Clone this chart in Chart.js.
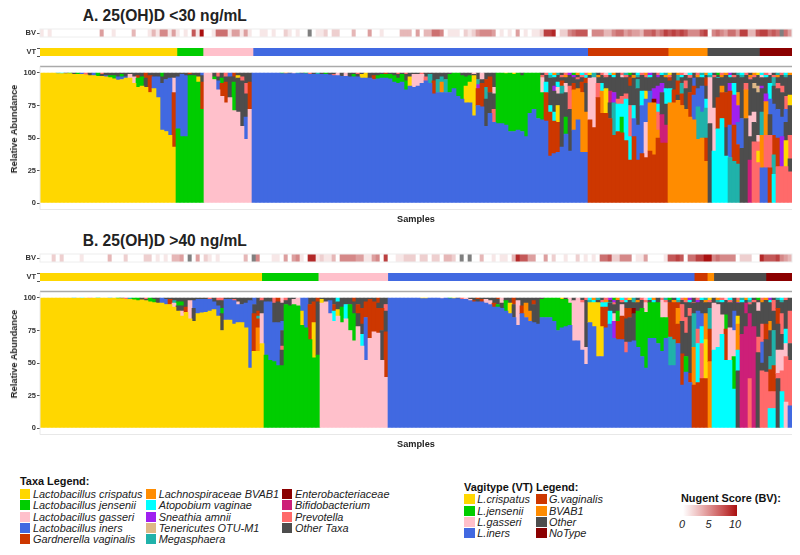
<!DOCTYPE html>
<html><head><meta charset="utf-8">
<script src="https://cdn.jsdelivr.net/npm/chart.js@4"></script>
<style>
html,body{margin:0;padding:0;background:#fff;width:800px;height:555px;overflow:hidden;font-family:"Liberation Sans",Arial,sans-serif}
canvas{position:absolute;left:0;display:block;filter:blur(0.35px)}
.t{position:absolute;white-space:nowrap;color:#111}
.h{font-weight:bold;font-size:15.6px;color:#222}
.lg{font-size:10.9px;font-style:italic;color:#222;line-height:12px}
.lt{font-size:10.9px;font-weight:bold;color:#111;line-height:12px}
.sw{position:absolute;width:10px;height:10px}
.ya{font-weight:bold;font-size:9.3px;color:#222;transform:translate(-50%,-50%) rotate(-90deg)}
</style></head><body>
<script>
const taxaCodes = ["Y","J","S","I","R","O","C","V","T","M","E","B","P","X"];
const taxaNames = ["Lactobacillus crispatus","Lactobacillus jensenii","Lactobacillus gasseri","Lactobacillus iners","Gardnerella vaginalis","Lachnospiraceae BVAB1","Atopobium vaginae","Sneathia amnii","Tenericutes OTU-M1","Megasphaera","Enterobacteriaceae","Bifidobacterium","Prevotella","Other Taxa"];
const taxaColors = ["#FFD700","#00CD00","#FFC0CB","#4169E1","#CD3700","#FF8C00","#00FFFF","#A020F0","#DEB887","#20B2AA","#8B0000","#CD1F78","#FF6A6A","#4D4D4D"];
const vtNames = ["L.crispatus","L.jensenii","L.gasseri","L.iners","G.vaginalis","BVAB1","Other","NoType"];
const vtColors = ["#FFD700","#00CD00","#FFC0CB","#4169E1","#CD3700","#FF8C00","#4D4D4D","#8B0000"];
const vtCountsA = [63,12,23,154,37,18,24,15];
const vtCountsB = [102,26,32,141,6,3,24,12];
const yTicks = [0,25,50,75,100];
const nugentTicks = [0,5,10];

const aCrispatus = ["Y100","Y100","Y100","Y100","Y99.5 M100","Y99.5 C100","Y99.5 X100","Y99.5 J100","Y99 X100","Y99 J100","Y99 I100","Y98.5 P100","Y98 X100","Y98 I100","Y97.5 J100","Y97.5 X99 P100","Y97 I98 X100","Y96.5 J98 X100","Y95.5 J98 X100","Y94.5 I97 X100","Y95 I97 J99 X100","Y96 I97 X100","Y96 S99 X100","Y92 S97 X100","Y89 J96 R98 X100","Y90 J97 X100","Y89 X96 R100","Y85 R98 X100","Y88 I97 X100","Y81 I97 X100","Y56 I92 X97 J100","Y55 I95 X100","Y52 I96 X100","Y43 R85 S96 X100"];
const aJensenii = ["J57 I97 X100","J51 I99 X100","J51 I98 X100","J98 X99 R100","J98 X100","J93 Y97 X100","J72 R93 X98 I100"];
const aGasseri = ["S100","S100","S95 J97 X100","S87 I94 X97 P100","S82 R92 J96 X100","S77 R93 X97 P100","S81 X97 I100","S71 J93 X97 R100","S70 X96 Y98 X100","S59 X94 P97 X100","S49 I66 X84 P92 X100","S72 R93 X100"];
const aIners = ["I100","I100","I100","I100","I100","I100","I100","I99.5 J100","I99.5 O100","I99.5 X100","I99.5 S100","I99.5 M100","I99.5 X100","I99.5 J100","I99 P100","I99 X100","I99 M100","I99 X100","I99 J100","I98.5 X100","I98 P99 X100","I98 S100","I97.5 X100","I97.5 S100","I97 X100","I97 J99 X100","I97 X99 P100","I96 Y99 X100","I96 Y100","I96 X100","I95 R98 X100","I95.5 J98 X100","I96 J99 X100","I96 J99 R100","I95.5 J99 X100","I93 J98 X100","I92 J96 X99 P100",
"I93 J99 X100","I87 J94 X99 P100","I90 Y97 X100","I89 S99 X100","I90 S99 X100","I92 S99 P100","I94 P97 X100","I92 M99 X100","I84 R94 X100","I85 M95 X100","I85 O93 M97 X100","I85 M95 X100","I85 J99 X100","I88 J100","I82 J100","I80 J98 X100","I77 Y90 J97 X100","I77 Y93 J98 X100","I67 Y98 X99 S100","I75 R88 V91 M95 X100","I74 R92 X95 S100","I59 X80 M89 R95 X100","I69 X85 R97 X100","I62 P72 X84 S89 X100",
"I61 J100","I61 J100","I60 J99.5 Y100","I55 J100","I55 J99 Y100","I56 J100","I55 J98 X100","I51 J100","I69 J100","I72 J100","I65 J100","I64 J85 S98 X100",
"I63 R85 C93 X100","I36 R70 C75 X96 M100","I38 R63 C70 X86 V90 X100","I39 R62 Y75 X84 S89 C93 X100","I43 X84 M90 R94 X100","I53 J66 X85 S92 X100","I40 X72 P90 X100","I56 O87 R92 X100","I64 O88 X95 P100","I39 O85 R93 X100","I39 O70 X92 R96 C100"];
const aGard = ["R64 S96 X98 P100","R58 S97 C100","R81 P92 X100","R69 O86 C92 X100","R69 Y88 X97 V100","R65 X77 B86 X100","R52 M77 V85 X100","R55 C76 P80 X100","R54 J66 C76 P82 X100","R48 C80 P84 X100","R33 C51 P75 X90 R100","R51 I65 C75 X96 O100","R33 I60 X88 M95 X100","R38 I75 C86 X100","R35 S62 I80 Y86 X97 R100","R40 O77 I86 X100","R37 O77 E80 V88 X100","R50 O56 P70 C76 V90 X100","R46 B68 X85 V92 X100","R46 B60 X76 C88 X100"];
const aBvab = ["O77 C88 X94 R100","O77 R87 X100","O79 X83 R94 M100","O75 R84 M92 X100","O72 X88 P94 X100","O66 R85 X96 P100","O64 I83 R90 I96 X100","O49 M74 I88 X100","O50 M70 I90 X97 P100","O32 R50 M73 C80 X90 R100"];
const aRest = ["X61 S97 X100","C40 S73 X97 P100","C57 R81 X96 C100","C65 R85 O90 X100","C36 X58 R85 X100","M35 I60 R86 V92 X100","M32 R60 V83 C92 X100","M30 R45 I62 V75 O85 X100","X42 I65 X100","X65 O87 P92 X100","B33 X51 S67 X95 P100","P47 X62 S70 X88 T92 X100","P31 Y40 P47 S52 X85 T90 X100","I27 O52 M70 X88 V90 X100","I27 P52 O78 V84 X100","R27 P52 X68 I80 C92 X100","C22 M37 R52 I76 X90 M100","P28 R50 I72 X88 P92 X100","P28 V51 I66 X85 P90 X100","P28 Y48 X62 I72 P82 X100","P24 X34 P52 X75 Y83 X100"];
const aTipStart = 125;
const aTipTop = "XPCOMXPVJOCPYMXPSCOXPMJXCPOVXPCMYXOPSCXPMOCXJPOVXMCPXOYCPSXMPCO";
const aTipLow = "PXMCXPOXVXPCXMOXPXCXSPXOMXPCXVXOPXMCXPXOCXMPXOXCPXMXOPXSCXPOXM";

const bCrispatus = ["Y100","Y100","Y100","Y100","Y100","Y100","Y100","Y100","Y99.7 M100","Y100","Y99.7 C100","Y100","Y99.7 P100","Y100","Y99.7 J100","Y100","Y100","Y99.7 M100","Y100","Y99.5 J100","Y99.5 X100","Y99 P100","Y99 M100","Y98.5 J100","Y98 J100","Y98.5 X100","Y98 X99 P100","Y97 J100","Y96.5 J99 X100","Y96 X100","Y96 I100","Y95 I99 X100","Y95 R99 X100","Y93 S96 M98 X100","Y90 X94 J97 X100","Y86 S90 X94 J97 X100","Y89 R93 X100","Y84 S98 X100","Y82 X92 I98 X100","Y88 I99 X100","Y88.5 I99 X100","Y89 I99 X100","Y90 I99 P100","Y91 I97 X100","Y86 I94 X98 P100","Y75 X88 J92 X98 P100","Y83 I99 X100","Y83 I99 X100","Y80 I98 P99 X100","Y81 I95 S97 X100","Y81 I95 X100","Y77 I96 X100","Y46 I98 X100","Y59 R88 X95 I100","Y59 O77 R84 M86 R90 X100","Y65 S88 X98 P100"];
const bJensenii = ["J56 I97 X100","J52 I97 X100","J51 I81 X96 P100","J48 I81 X97 R100","J48 X60 P63 X75 I82 X96 S100","J95 X98 P100","J94 X100","J95 S99 X100","J94 S100","J79 Y90 I100","J77 I100","J68 R95 X100","J54 Y81 R97 X100","J56 X97 R100"];
const bGasseri = ["S96 Y99 X100","S97 X100","S88 I98 X100","S82 C90 R95 X100","S86 Y91 X97 C100","S81 J93 X100","S84 C95 X100","S75 J95 X100","S67 J88 X97 R100","S78 X88 R95 X100","S63 C72 X80 R92 X100","S52 I85 R97 X100","S69 R99 X100","S74 R97 X100","S73 R92 X96 R100","S52 X75 R92 X100","S39 R74 X90 P95 X100"];
const bIners = ["I100","I100","I100","I100","I100","I100","I100","I100","I99.5 Y100","I99.5 Y100","I100","I100","I100","I99.5 S100","I100","I99.5 J100","I99.5 Y100","I99.5 X100","I99 P100","I99 S100","I98 S99 X100","I97 R98 X100","I97 X99 R100","I97 R99 X100","I96 S99 X100","I95 S98 X100","I93 R96 X100","I93 J95 X99 R100","I92 X96 S100","I90 J98 X100","I88 Y96 X100","I85 X95 R100","I79 S98 X100","I88 R94 X100","I85 O96 X100","I82 O90 X100","I81 X95 R98 X100","I80 X100",
"I85 J99 X100","I85 J100","I85 J100","I82 J100","I75 J100","I77 J99 Y100","I78 J99 X100","I79 J96 S100","I67 S98 X100","I67 S100","I60 S99 X100","I49 S62 X100","I81 Y100","I78 Y100","I55 Y98 X100","I55 Y78 R93 C97 X100","I77 R93 C97 X100","I80 C90 X96 M100","I69 V82 S88 X95 P100","I68 R82 J90 X97 R100","I68 R86 S95 X100","I58 P66 X84 R92 X100","I66 X85 R92 X100","I67 X88 E92 X100","I62 J90 X97 P100","I55 J92 X100","I46 J89 S97 X100","I69 J99 X100","I69 J100","I65 J99 S100","I59 J85 S98 X100","I69 J85 S97 X100","I48 M70 R97 X100","I48 M68 R97 X100","I65 R80 O92 R100","I33 R57 X82 P95 X100","I43 J55 X73 P85 X100","I35 R42 X86 P92 X100"];
const bGard = ["R33 O62 M88 X96 P100","R35 C65 P76 I90 X100","R38 P65 C78 I88 X100","R38 Y68 O88 X100"];
const bBvab = ["O51 R76 M92 X100"];
const bRest = ["C60 S96 X100","C62 S95 X100","C72 S87 X97 I100","C52 R76 J87 X100","C52 S77 X100","C30 J55 S75 I90 X100","X44 C60 O80 Y86 X96 V100","B72 X97 B100","B78 X88 B96 X100","P38 B88 X95 P100","B78 X97 P100","X58 P70 X90 S100","P44 X50 I66 P80 X100","P43 X68 R80 X100","C15 P28 R45 M55 X75 O82 X100","C15 P28 R48 M75 X90 P100","X38 P42 S60 X80 R92 X100","C28 P44 S60 X72 P88 X100","S20 P55 S65 C76 X100","I17 P52 X65 P90 X100"];
const bTipStart = 135;
const bTipTop = "XPCOMXPVJOCPYMXPSCOXPMJXCPOVXPCMYXOPSCXPMOCXJPOVXMCP";
const bTipLow = "PXMCXPOXVXPCXMOXPXCXSPXOMXPCXVXOPXMCXPXOCXMPXOXCPXM";

const bvScoresA = [1,0,1,0,0,0,0,0,0,0, 0,0,0,0,0,4,0,0,1,0, 0,0,0,3,0,0,0,1,3,1, 5,5,1,4,1,0,1,0,7,1, 10,0,0,1,6,6,6,1,4,4, 1,4,1,0,0,1,1,0,1,0, 0,2,1,0,1,0,0,-1,0,1, 1,2,0,2,2,0,0,0,3,0, 0,0,4,0,0,1,0,0,0,0, 3,3,3,0,4,0,3,3,6,6, 5,0,1,1,1,0,2,1,2,4, 5,5,5,4,0,1,0,1,0,4, 0,1,0,1,1,2,8,8,9,0, 2,2,5,6,7,7,7,0,5,5, 5,3,3,5,6,6,4,5,4,4, 3,6,6,7,5,6,8,7,8,7, 8,7,5,5,5,7,8,0,5,6, 5,4,6,6,4,8,8,3,3,7, 8,8,6,7,6,-1,6,4];
const bvScoresB = [0,0,0,2,0,2,0,0,0,0, 1,0,0,0,0,0,0,3,0,0, 0,2,0,0,0,0,2,2,0,1, 0,1,0,3,3,4,0,-1,0,4, 0,2,1,0,1,0,0,0,0,0, 0,3,0,-1,5,0,0,0,1,1, 0,4,0,4,5,1,0,9,9,1, 2,1,1,3,0,5,5,5,5,4, 4,1,1,4,5,0,8,0,0,1, 1,2,2,2,0,2,2,0,2,2, 0,3,3,2,0,-1,0,-1,0,0, 3,0,0,1,0,1,1,0,3,9, 7,7,4,4,0,0,4,0,2,0, 0,1,0,0,2,0,1,0,1,0, 6,6,7,2,2,5,5,5,0,1, 1,4,0,0,0,0,1,7,7,8, 7,0,6,6,8,8,10,10,5,6, 5,5,5,5,0,2,2,2,0,0, 9,7,7,7,8,5,4,3];

const FONT='"Liberation Sans",Arial,sans-serif';
const colorOf=c=>taxaColors[taxaCodes.indexOf(c)];
function parseCols(cols,start,top,low){
  return cols.map((s,i)=>{
    let toks=s.split(" ").map(t=>[t[0],parseFloat(t.slice(1))]);
    const tc=i>=start?top.charAt(i-start):"",lc=i>=start?low.charAt(i-start):"";
    if(tc){
      const cut=lc?96.4:98.2;
      const kept=[];let prev=0;
      for(const [c,v] of toks){ if(prev>=cut)break; kept.push([c,Math.min(v,cut)]); prev=v; }
      if(lc)kept.push([lc,98.2]);
      kept.push([tc,100]);
      toks=kept;
    }
    return toks;
  });
}
function addCanvas(top,h){const c=document.createElement("canvas");c.width=800;c.height=h;c.style.top=top+"px";c.style.width="800px";c.style.height=h+"px";document.body.appendChild(c);return c;}
function txt(cls,x,y,s,extra){const d=document.createElement("div");d.className="t "+cls;d.textContent=s;d.style.left=x+"px";d.style.top=y+"px";if(extra)d.style.cssText+=extra;document.body.appendChild(d);return d;}
const tickFont={family:FONT,size:7.5,weight:"bold"};
const fitY=s=>{s.width=40;s.paddingTop=0;s.paddingBottom=0;};
const framePlugin={id:"frame",afterDraw(ch){const {ctx,chartArea:a}=ch;ctx.save();ctx.strokeStyle="#aaaaaa";ctx.lineWidth=1.4;ctx.beginPath();ctx.moveTo(a.left,a.top);ctx.lineTo(a.right,a.top);ctx.stroke();ctx.strokeStyle="#e8e8e8";ctx.lineWidth=1;ctx.beginPath();ctx.moveTo(a.left,a.top);ctx.lineTo(a.left,a.bottom);ctx.moveTo(a.left,a.bottom);ctx.lineTo(a.right,a.bottom);ctx.stroke();ctx.restore();}};
const stripPlugin={id:"strip",afterDraw(ch){const {ctx,chartArea:a}=ch;ctx.save();ctx.strokeStyle="#eeeeee";ctx.lineWidth=1;ctx.strokeRect(a.left,a.top,a.right-a.left,a.bottom-a.top);ctx.restore();}};
function abundance(off,cols){
  const L=Math.max(...cols.map(c=>c.length));
  const datasets=[];
  for(let j=0;j<L;j++){
    const data=[],bg=[];
    cols.forEach(c=>{const t=c[j];if(t){const p=j?c[j-1][1]:0;data.push(t[1]-p);bg.push(colorOf(t[0]));}else{data.push(0);bg.push("rgba(0,0,0,0)");}});
    datasets.push({data,backgroundColor:bg,borderWidth:0,barPercentage:1,categoryPercentage:1});
  }
  new Chart(addCanvas(60+off,165),{type:"bar",data:{labels:cols.map((_,i)=>String(i+1)),datasets},plugins:[framePlugin],options:{
    responsive:false,animation:false,layout:{padding:{top:6.5,right:8,bottom:0,left:0}},
    plugins:{legend:{display:false},tooltip:{enabled:false}},
    scales:{
      x:{stacked:true,ticks:{display:false},grid:{display:false},border:{display:false},title:{display:true,text:"Samples",color:"#222",font:{family:FONT,size:9.2,weight:"bold"},padding:0},afterFit(s){s.height=15.5;}},
      y:{stacked:true,min:-5,max:105,afterBuildTicks(s){s.ticks=yTicks.map(v=>({value:v}));},ticks:{color:"#333",font:tickFont,padding:1,autoSkip:false},grid:{drawOnChartArea:false,tickLength:3,color:"#555"},border:{display:false},afterFit:fitY}
    }}});
}
function bvStrip(off,scores){
  const col=s=>{if(s<0)return "#7f7f7f";const k=s/10;const m=(a,b)=>Math.round(a+(b-a)*k);return `rgb(${m(255,170)},${m(255,16)},${m(255,16)})`;};
  new Chart(addCanvas(27+off,12),{type:"bar",data:{labels:scores.map((_,i)=>String(i+1)),datasets:[{data:scores.map(()=>1),backgroundColor:scores.map(col),borderWidth:0,barPercentage:1,categoryPercentage:1}]},plugins:[stripPlugin],options:{
    responsive:false,animation:false,layout:{padding:{top:2,right:8,bottom:2,left:0}},plugins:{legend:{display:false},tooltip:{enabled:false}},
    scales:{x:{display:false},y:{min:0,max:1,afterBuildTicks(s){s.ticks=[{value:.5}];},ticks:{callback:()=>"BV",color:"#333",font:tickFont,padding:1,autoSkip:false},grid:{drawOnChartArea:false,tickLength:3,color:"#555"},border:{display:false},afterFit:fitY}}}});
}
function vtStrip(off,counts){
  const datasets=counts.map((c,i)=>({data:[c],backgroundColor:vtColors[i],borderWidth:0,barPercentage:1,categoryPercentage:1}));
  new Chart(addCanvas(46+off,12),{type:"bar",data:{labels:["VT"],datasets},options:{
    indexAxis:"y",responsive:false,animation:false,layout:{padding:{top:2,right:8,bottom:2,left:0}},plugins:{legend:{display:false},tooltip:{enabled:false}},
    scales:{x:{display:false,stacked:true,min:0,max:counts.reduce((a,b)=>a+b,0)},y:{stacked:true,ticks:{color:"#333",font:tickFont,padding:1},grid:{drawOnChartArea:false,tickLength:3,color:"#555"},border:{display:false},afterFit:fitY}}}});
}
const colsA=parseCols([...aCrispatus,...aJensenii,...aGasseri,...aIners,...aGard,...aBvab,...aRest],aTipStart,aTipTop,aTipLow);
const colsB=parseCols([...bCrispatus,...bJensenii,...bGasseri,...bIners,...bGard,...bBvab,...bRest],bTipStart,bTipTop,bTipLow);
[[0,"A. 25(OH)D <30 ng/mL",colsA,bvScoresA,vtCountsA],[225,"B. 25(OH)D >40 ng/mL",colsB,bvScoresB,vtCountsB]].forEach(([off,title,cols,bv,vt])=>{
  txt("h",82.7,6.5+off,title);
  bvStrip(off,bv);vtStrip(off,vt);abundance(off,cols);
  txt("ya",14,129+off,"Relative Abundance");
});
// Legends
txt("lt",20,475,"Taxa Legend:");
const taxaX=[20,145.7,282],taxaRow=[494,505.3,516.7,527.8,539];
const taxaPos=[[0,0],[0,1],[0,2],[0,3],[0,4],[1,0],[1,1],[1,2],[1,3],[1,4],[2,0],[2,1],[2,2],[2,3]];
taxaNames.forEach((n,i)=>{const [c,r]=taxaPos[i];const s=document.createElement("div");s.className="sw";s.style.cssText+=`left:${taxaX[c]}px;top:${taxaRow[r]-5}px;background:${taxaColors[i]}`;document.body.appendChild(s);txt("lg",taxaX[c]+13,taxaRow[r]-6,n);});
txt("lt",464,481,"Vagitype (VT) Legend:");
const vtRow=[499.3,510.7,522,533.3],vtX=[464,536];
vtNames.forEach((n,i)=>{const c=i<4?0:1,r=i%4;const s=document.createElement("div");s.className="sw";s.style.cssText+=`left:${vtX[c]}px;top:${vtRow[r]-5}px;background:${vtColors[i]};width:${c?10.5:11}px`;document.body.appendChild(s);txt("lg",vtX[c]+(c?13:13.3),vtRow[r]-6,n);});
txt("lt",681,492.3,"Nugent Score (BV):");
const g=document.createElement("div");g.style.cssText="position:absolute;left:683px;top:505px;width:54px;height:11px;background:linear-gradient(to right,#fff,#e9b0b0 35%,#c85050 75%,#aa1010)";document.body.appendChild(g);
nugentTicks.forEach((v,i)=>{txt("lg",[682,708.5,735][i],518,String(v),"transform:translateX(-50%)");});
</script>
</body></html>
